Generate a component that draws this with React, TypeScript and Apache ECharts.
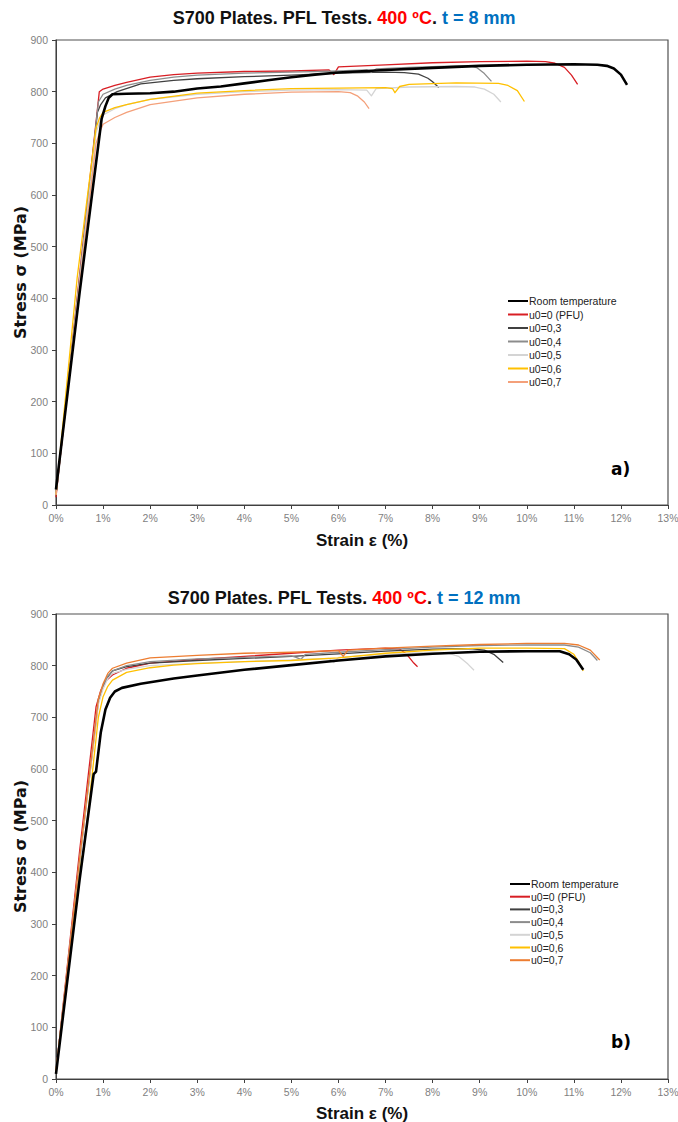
import React, { useEffect, useRef } from "react";
import * as echarts from "echarts";

// ---------- DATA (strain %, stress MPa) ----------
const xTickLabels = ["0%", "1%", "2%", "3%", "4%", "5%", "6%", "7%", "8%", "9%", "10%", "11%", "12%", "13%"];
const legendNames = ["Room temperature", "u0=0 (PFU)", "u0=0,3", "u0=0,4", "u0=0,5", "u0=0,6", "u0=0,7"];

// Chart a) t = 8 mm
const a_room = [[0,30],[0.5,410],[0.97,748],[1.05,772],[1.12,788],[1.2,795],[1.5,796],[2.0,797],[2.5,800],[3.0,806],[3.5,810],[4.0,816],[4.5,822],[5.0,828],[5.5,833],[6.0,837],[7.0,842],[8.0,846],[9.0,850],[10.0,852],[11.0,853],[11.5,852],[11.7,850],[11.85,845],[12.0,833],[12.13,813]];
const a_u0 = [[0,15],[0.5,445],[0.92,800],[1.0,805],[1.25,812],[1.5,818],[2.0,828],[2.5,833],[3.0,836],[4.0,839],[5.0,840],[5.8,842],[5.9,833],[6.0,848],[7.0,852],[8.0,856],[9.0,858],[10.0,859],[10.4,858],[10.6,855],[10.8,847],[10.95,832],[11.08,814]];
const a_u03 = [[0,20],[0.5,430],[0.88,760],[0.95,775],[1.05,788],[1.3,800],[1.8,815],[2.5,822],[3.0,825],[4.0,829],[5.0,832],[6.0,836],[7.0,838],[7.4,837],[7.7,834],[7.9,826],[8.0,819],[8.13,808]];
const a_u04 = [[0,20],[0.5,440],[0.9,780],[1.0,795],[1.25,805],[1.5,812],[2.0,822],[2.5,828],[3.0,832],[4.0,836],[5.0,838],[6.0,840],[6.6,842],[6.7,838],[6.8,844],[7.5,847],[8.5,850],[8.8,850],[8.95,846],[9.1,835],[9.25,820]];
const a_u05 = [[0,20],[0.5,430],[0.85,720],[0.93,742],[1.0,755],[1.25,767],[1.5,775],[2.0,785],[3.0,795],[4.0,800],[5.0,803],[6.0,804],[6.6,803],[6.7,792],[6.8,806],[7.5,809],[8.5,810],[8.9,809],[9.1,805],[9.3,795],[9.45,780]];
const a_u06 = [[0,20],[0.45,440],[0.85,730],[0.93,750],[1.0,760],[1.25,769],[1.5,775],[2.0,785],[3.0,797],[4.0,802],[5.0,806],[6.0,807],[7.0,808],[7.15,806],[7.2,798],[7.3,810],[7.5,814],[8.5,817],[9.4,816],[9.6,812],[9.8,802],[9.95,781]];
const a_u07 = [[0,20],[0.5,425],[0.85,700],[0.93,722],[1.0,737],[1.25,750],[1.5,760],[2.0,775],[3.0,788],[4.0,795],[5.0,799],[6.0,800],[6.25,798],[6.4,792],[6.55,780],[6.65,767]];

// Chart b) t = 12 mm
const b_room = [[0,10],[0.5,385],[0.8,590],[0.85,595],[0.95,670],[1.05,715],[1.15,738],[1.25,750],[1.4,757],[1.8,765],[2.5,775],[3.0,781],[4.0,792],[5.0,801],[6.0,810],[7.0,818],[8.0,823],[9.0,827],[10.0,828],[10.7,828],[10.9,822],[11.05,812],[11.2,792]];
const b_u0 = [[0,15],[0.5,440],[0.85,720],[0.95,752],[1.05,770],[1.2,782],[1.5,795],[2.0,805],[3.0,812],[4.0,818],[5.0,824],[6.0,830],[7.0,834],[7.3,832],[7.45,822],[7.6,805],[7.68,798]];
const b_u03 = [[0,15],[0.5,420],[0.9,730],[1.0,760],[1.1,778],[1.2,790],[1.5,798],[2.0,805],[3.0,810],[4.0,814],[5.0,818],[6.0,823],[7.0,828],[8.0,832],[8.8,833],[9.1,830],[9.3,822],[9.5,806]];
const b_u04 = [[0,15],[0.5,425],[0.9,735],[1.0,762],[1.1,780],[1.2,790],[1.5,800],[2.0,808],[3.0,813],[4.0,816],[5.0,819],[5.1,816],[5.2,812],[5.3,822],[6.0,826],[7.0,831],[8.0,836],[9.0,839],[10.0,840],[10.8,840],[11.1,836],[11.35,825],[11.5,810]];
const b_u05 = [[0,15],[0.5,420],[0.9,725],[1.0,755],[1.1,775],[1.2,785],[1.5,793],[2.0,800],[3.0,805],[4.0,808],[5.0,811],[5.8,814],[5.9,806],[6.0,816],[7.0,822],[8.0,826],[8.3,825],[8.55,818],[8.75,803],[8.88,791]];
const b_u06 = [[0,15],[0.55,430],[0.58,437],[0.65,490],[0.9,700],[1.0,740],[1.1,760],[1.2,772],[1.5,787],[2.0,796],[2.5,801],[3.0,804],[3.5,806],[4.0,808],[5.0,810],[6.0,815],[7.0,824],[8.0,830],[9.0,834],[10.0,834],[10.8,833],[11.0,822],[11.1,808],[11.2,790]];
const b_u07 = [[0,15],[0.5,425],[0.9,735],[1.0,765],[1.1,785],[1.2,795],[1.5,805],[2.0,815],[3.0,820],[4.0,824],[5.0,826],[6.0,829],[6.1,818],[6.2,830],[7.0,834],[8.0,838],[9.0,841],[10.0,843],[10.8,843],[11.1,840],[11.35,830],[11.55,811]];

const aData = [a_room, a_u0, a_u03, a_u04, a_u05, a_u06, a_u07];
const bData = [b_room, b_u0, b_u03, b_u04, b_u05, b_u06, b_u07];
const aColors = ["#000000", "#D81E24", "#404040", "#8C8C8C", "#D4D4D4", "#FFC000", "#F4A07A"];
const bColors = ["#000000", "#D81E24", "#404040", "#8C8C8C", "#D4D4D4", "#FFC000", "#ED7D31"];

const FONT = "Liberation Sans, Arial, sans-serif";

export default function App() {
  const ref = useRef<HTMLDivElement>(null);
  useEffect(() => {
    if (!ref.current) return;
    const chart = echarts.init(ref.current, undefined, { renderer: "svg" });

    const grids = [
      { left: 56, top: 40, width: 612, height: 465 },
      { left: 56, top: 614, width: 612, height: 465 },
    ];

    const mkX = (i: number) => ({
      type: "value", gridIndex: i, min: 0, max: 13, interval: 1,
      name: "Strain ε (%)", nameLocation: "middle", nameGap: i === 0 ? 27 : 26,
      nameMoveOverlap: false,
      nameTextStyle: { fontFamily: FONT, fontWeight: "bold", fontSize: 17, color: "#111" },
      axisLine: { show: true, lineStyle: { color: "#404040", width: 1 } },
      axisTick: { show: true, inside: false, length: 4, lineStyle: { color: "#404040" } },
      axisLabel: { formatter: (v: number) => xTickLabels[Math.round(v)], color: "#7F7F7F", fontFamily: FONT, fontSize: 10.5, margin: 7 },
      splitLine: { show: false },
    });
    const mkY = (i: number) => ({
      type: "value", gridIndex: i, min: 0, max: 900, interval: 100,
      name: "Stress σ (MPa)", nameLocation: "middle", nameGap: 28,
      nameMoveOverlap: false,
      nameTextStyle: { fontFamily: "DejaVu Sans, sans-serif", fontWeight: "bold", fontSize: 16, color: "#111" },
      axisLine: { show: true, lineStyle: { color: "#404040", width: 1 } },
      axisTick: { show: true, inside: false, length: 4, lineStyle: { color: "#404040" } },
      axisLabel: { color: "#7F7F7F", fontFamily: FONT, fontSize: 10.5, margin: 8 },
      splitLine: { show: false },
    });

    const series: any[] = [];
    const pushSet = (data: number[][][], colors: string[], gi: number, prefix: string) => {
      data.forEach((d, k) => {
        series.push({
          type: "line",
          name: prefix + legendNames[k],
          xAxisIndex: gi, yAxisIndex: gi,
          data: d,
          showSymbol: false,
          smooth: false,
          lineStyle: { color: colors[k], width: k === 0 ? 2.6 : 1.3, join: "round" },
          itemStyle: { color: colors[k] },
          z: k === 0 ? 3 : 2,
        });
      });
    };
    pushSet(aData, aColors, 0, "a:");
    pushSet(bData, bColors, 1, "b:");

    const mkLegend = (prefix: string, left: number, top: number, gap: number) => ({
      orient: "vertical", left, top, padding: 0,
      data: legendNames.map((n) => prefix + n),
      formatter: (n: string) => n.slice(2),
      icon: "rect", itemWidth: 20, itemHeight: 2, itemGap: gap,
      selectedMode: false,
      textStyle: { fontFamily: FONT, fontSize: 10.5, color: "#222", lineHeight: 12, padding: [0, 0, 0, -4] },
    });

    const titleRich = {
      k: { fontFamily: FONT, fontWeight: "bold", fontSize: 18, color: "#111" },
      r: { fontFamily: FONT, fontWeight: "bold", fontSize: 18, color: "#FF0000" },
      u: { fontFamily: FONT, fontWeight: "bold", fontSize: 18, color: "#0070C0" },
    };

    chart.setOption({
      animation: false,
      backgroundColor: "#ffffff",
      title: [
        { text: "{k|S700 Plates. PFL Tests. }{r|400 ºC}{k|. }{u|t = 8 mm}", left: 339, textAlign: "center", top: 4, textStyle: { rich: titleRich } },
        { text: "{k|S700 Plates. PFL Tests. }{r|400 ºC}{k|. }{u|t = 12 mm}", left: 339, textAlign: "center", top: 584, textStyle: { rich: titleRich } },
      ],
      grid: grids.map((g) => ({ ...g, show: true, borderColor: "#505050", borderWidth: 1.2, backgroundColor: "transparent", containLabel: false, outerBoundsMode: "none" })),
      xAxis: [mkX(0), mkX(1)],
      yAxis: [mkY(0), mkY(1)],
      legend: [mkLegend("a:", 508, 295, 1.5), mkLegend("b:", 510, 878, 0.7)],
      series,
      graphic: [
        { type: "text", left: 611, top: 460, style: { text: "a)", font: "bold 17px 'DejaVu Sans', sans-serif", fill: "#000" } },
        { type: "text", left: 611, top: 1033, style: { text: "b)", font: "bold 17px 'DejaVu Sans', sans-serif", fill: "#000" } },
      ],
    });
    return () => chart.dispose();
  }, []);
  return <div ref={ref} style={{ position: "absolute", left: 0, top: 0, width: 678, height: 1122, background: "#fff" }} />;
}
